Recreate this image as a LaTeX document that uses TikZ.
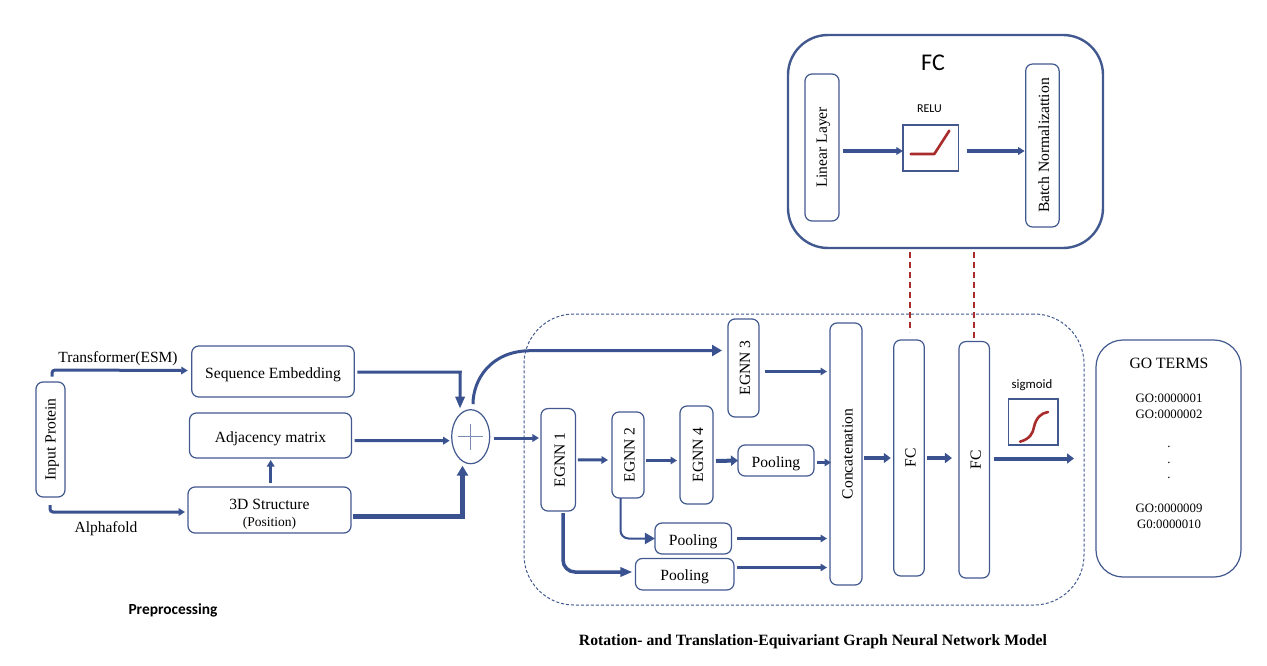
\documentclass[tikz,border=0pt]{standalone}
\usepackage{fontspec}
\setmainfont{Liberation Serif}
\newfontfamily\calib{Carlito}
\usetikzlibrary{arrows.meta,shapes.geometric}
\definecolor{edgeblue}{HTML}{41598F}
\definecolor{flowblue}{HTML}{3B5290}
\definecolor{curvered}{HTML}{A92C2C}
\tikzset{
  x=1pt,y=-1pt,
  box/.style={draw=edgeblue,line width=1.2pt,rounded corners=7pt,fill=white,inner sep=0pt,outer sep=0pt,font=\fontsize{15.6}{17}\selectfont},
  hbox/.style={box,text height=13pt,text depth=0pt},
  bigbox/.style={draw=edgeblue,line width=2.4pt,rounded corners=40pt,inner sep=0pt,outer sep=0pt},
  sqbox/.style={draw=edgeblue,line width=1.4pt,inner sep=0pt,outer sep=0pt},
  txt/.style={inner sep=0pt,outer sep=0pt,align=center,yshift=-1.3pt},
  flow/.style={draw=flowblue,line width=#1,rounded corners=3pt,-{Triangle[length=6.5pt,width=7.5pt]}},
  flow/.default=3pt,
  thickflow/.style={draw=flowblue,line width=#1,-{Triangle[length=7pt,width=10pt]}},
  bighead/.style={draw=flowblue,line width=#1,-{Triangle[length=10pt,width=11pt]}},
  longhead/.style={draw=flowblue,line width=#1,-{Triangle[length=12pt,width=9pt]}},
  redlink/.style={draw=curvered,line width=1.3pt,dash pattern=on 6pt off 4pt},
  curve/.style={draw=curvered,line width=2.6pt,line cap=round,line join=round},
}
\newcommand{\rot}[1]{\hspace*{3pt}\rotatebox{90}{#1}}
\begin{document}
\begin{tikzpicture}
\useasboundingbox (0,0) rectangle (1267,666);
\fill[white] (0,0) rectangle (1267,666);

% group frames
\node[bigbox,minimum width=315pt,minimum height=213pt] (fcbox) at (945.5,141.5) {};
\node[draw=edgeblue,line width=1pt,densely dashed,rounded corners=50pt,minimum width=560pt,minimum height=291pt,inner sep=0pt,outer sep=0pt] (model) at (804,459.5) {};

% FC detail
\node[txt,font=\calib\fontsize{24}{28}\selectfont] (fctitle) at (933,61) {FC};
\node[txt,font=\calib\fontsize{12}{14}\selectfont] (relulabel) at (929.5,107) {RELU};
\node[box,minimum width=34pt,minimum height=147pt] (linear) at (822,147.5) {\rot{Linear Layer}};
\node[sqbox,minimum width=55.5pt,minimum height=46pt] (relu) at (930.7,148) {};
\node[box,minimum width=33.5pt,minimum height=163pt] (batch) at (1042.4,145.5) {\rot{Batch Normalizattion}};
\draw[curve] ([shift={(-20,6)}]relu.center) -- ([shift={(3.6,6)}]relu.center) -- ([shift={(18.6,-17.3)}]relu.center);

% preprocessing
\node[box,minimum width=29pt,minimum height=115pt] (input) at (50.5,439.5) {\rot{Input Protein}};
\node[hbox,minimum width=162.5pt,minimum height=51pt] (seq) at (273,371.5) {Sequence Embedding};
\node[hbox,minimum width=162pt,minimum height=45pt] (adj) at (270.5,435.5) {Adjacency matrix};
\node[box,minimum width=163pt,minimum height=46pt] (struct) at (269.5,510) {};
\node[txt,font=\fontsize{15.6}{17}\selectfont] (structa) at (269.5,503) {3D Structure};
\node[txt,font=\fontsize{13.5}{15}\selectfont] (structb) at (269.5,522) {(Position)};
\node[txt,font=\fontsize{15.5}{17}\selectfont] (esmlabel) at (118,357) {Transformer(ESM)};
\node[txt,font=\fontsize{15.5}{17}\selectfont] (aflabel) at (106,527.5) {Alphafold};
\node[draw=edgeblue,line width=1.2pt,ellipse,inner sep=0pt,outer sep=0pt,minimum width=38pt,minimum height=54pt,fill=white] (sum) at (470.7,436.7) {};
\draw[draw=edgeblue!70,line width=.8pt] ([xshift=-12.5pt]sum.center) -- ([xshift=12.5pt]sum.center);
\draw[draw=edgeblue!70,line width=.8pt] ([yshift=13pt]sum.center) -- ([yshift=-13pt]sum.center);

% model
\node[box,minimum width=34.5pt,minimum height=102.5pt] (e1) at (558.2,459.8) {\rot{EGNN 1}};
\node[box,minimum width=32pt,minimum height=86pt] (e2) at (628,455) {\rot{EGNN 2}};
\node[box,minimum width=33pt,minimum height=98pt] (e4) at (696.5,455) {\rot{EGNN 4}};
\node[box,minimum width=31pt,minimum height=98pt] (e3) at (743.5,368) {\rot{EGNN 3}};
\node[hbox,minimum width=76pt,minimum height=31pt] (p4) at (776,460.5) {Pooling};
\node[hbox,minimum width=76.5pt,minimum height=31pt] (p2) at (693.2,538.5) {Pooling};
\node[hbox,minimum width=98.5pt,minimum height=31.5pt] (p1) at (684.7,574.2) {Pooling};
\node[box,minimum width=32pt,minimum height=262pt] (concat) at (846,454) {\rot{Concatenation}};
\node[box,minimum width=30.5pt,minimum height=236pt] (fc1) at (909,458) {\rot{FC}};
\node[box,minimum width=30.5pt,minimum height=236.5pt] (fc2) at (974.2,459.8) {\rot{FC}};
\node[txt,font=\calib\fontsize{12.8}{15}\selectfont] (siglabel) at (1032,384) {sigmoid};
\node[sqbox,minimum width=49.5pt,minimum height=46pt] (sigm) at (1033.3,422) {};
\draw[curve] ([shift={(-13.3,19.7)}]sigm.center) .. controls ([shift={(-3.3,17)}]sigm.center) and ([shift={(-.3,11)}]sigm.center) .. ([shift={(.7,5)}]sigm.center) .. controls ([shift={(2.7,-4)}]sigm.center) and ([shift={(7.7,-9)}]sigm.center) .. ([shift={(14.7,-10)}]sigm.center);

% GO terms
\node[box,rounded corners=27pt,minimum width=145pt,minimum height=237pt] (go) at (1168.5,458.5) {};
\node[txt,font=\fontsize{15.7}{17}\selectfont] (goterms) at (1169,362.5) {GO TERMS};
\node[txt,font=\fontsize{12.8}{14}\selectfont] (g1) at (1169,397) {GO:0000001};
\node[txt,font=\fontsize{12.8}{14}\selectfont] (g2) at (1169,413) {GO:0000002};
\node[txt,font=\fontsize{12.8}{14}\selectfont] (d1) at (1169,446) {.};
\node[txt,font=\fontsize{12.8}{14}\selectfont] (d2) at (1169,462) {.};
\node[txt,font=\fontsize{12.8}{14}\selectfont] (d3) at (1169,477) {.};
\node[txt,font=\fontsize{12.8}{14}\selectfont] (g9) at (1169,507) {GO:0000009};
\node[txt,font=\fontsize{12.8}{14}\selectfont] (g10) at (1169,523) {G0:0000010};

% captions
\node[txt,font=\calib\bfseries\fontsize{15.4}{17}\selectfont] (preproc) at (173,609) {Preprocessing};
\node[txt,font=\bfseries\fontsize{15.7}{17}\selectfont] (modeltitle) at (813,640) {Rotation- and Translation-Equivariant Graph Neural Network Model};

% free end of output arrow
\coordinate (out) at (1074,458.5);

% FC arrows
\draw[flow=3.5pt] ([shift={(4,3.5)}]linear.east) -- ([shift={(0,3)}]relu.west);
\draw[flow=3.5pt] ([shift={(8.5,3)}]relu.east) -- ([shift={(-1,5.5)}]batch.west);
\draw[redlink] ([shift={(1,4)}]fc1.north |- fcbox.south) -- ([shift={(1,-8)}]fc1.north);
\draw[redlink] ([shift={(-.2,4)}]fc2.north |- fcbox.south) -- ([xshift=-.2pt]fc2.north);

% preprocessing arrows
\draw[flow=3pt] ([shift={(1.5,-5.5)}]input.north) -- ([shift={(1.5,-12)}]input.north) -- ([shift={(-4,-1)}]seq.west);
\draw[flow=3pt] ([shift={(-.5,8)}]input.south) -- ([shift={(-.5,15)}]input.south) -- ([shift={(-3,2)}]struct.west);
\draw[longhead=3pt] ([shift={(3,.5)}]seq.east) -- ++(103,0) -- ([shift={(-10.7,-1)}]sum.north);
\draw[flow=3pt] ([shift={(3,5)}]adj.east) -- ([shift={(-2,4)}]sum.west);
\draw[flow=2.6pt] ([shift={(1.2,-4)}]struct.north) -- ([shift={(.2,2)}]adj.south);
\draw[bighead=4.5pt] ([shift={(2,6.7)}]struct.east) -- ++(109.5,0) -- ([shift={(-8.2,2)}]sum.south);
\draw[bighead=3pt] ([shift={(2.3,-5.5)}]sum.north) .. controls ([shift={(2.3,-30)}]sum.north) and ([shift={(20,-59)}]sum.north) .. ([shift={(60,-59)}]sum.north) -- ([shift={(-6,-17.5)}]e3.west);
\draw[flow=3pt] ([shift={(4,1.3)}]sum.east) -- ([shift={(-2,-21.8)}]e1.west);

% model arrows
\draw[flow=3pt] ([xshift=2.5pt]e1.east) -- ([shift={(-4,5)}]e2.west);
\draw[flow=3pt] ([shift={(2,5.5)}]e2.east) -- ([shift={(-3,5.5)}]e4.west);
\draw[thickflow=4pt] ([shift={(3,6)}]e4.east) -- ([xshift=0pt]p4.west);
\draw[flow=3pt] ([shift={(3,2)}]p4.east) -- ([shift={(1,8.5)}]concat.west);
\draw[flow=3pt] ([shift={(5.5,3.5)}]e3.east) -- ([shift={(-3,-82.5)}]concat.west);
\draw[bighead=2pt,rounded corners=8pt] ([xshift=-7.5pt]e2.south) -- ([xshift=-7.5pt]e2.south |- p2.west) -- (p2.west);
\draw[longhead=3.5pt,rounded corners=12pt] ([shift={(4.8,2)}]e1.south) -- ([shift={(4.8,-2.2)}]e1.south |- p1.west) -- ([shift={(-3,-2.2)}]p1.west);
\draw[flow=3pt] ([xshift=5.5pt]p2.east) -- ([shift={(-3,84.5)}]concat.west);
\draw[flow=3.5pt] ([shift={(3,-6.7)}]p1.east) -- ([shift={(-3,113.5)}]concat.west);
\draw[thickflow=4pt] ([shift={(1.5,4)}]concat.east) -- ([xshift=-3pt]fc1.west);
\draw[thickflow=4.5pt] ([xshift=3pt]fc1.east) -- ([shift={(-7,-1.8)}]fc2.west);
\draw[thickflow=4pt] ([shift={(4.5,-1.3)}]fc2.east) -- (out);
\end{tikzpicture}
\end{document}
